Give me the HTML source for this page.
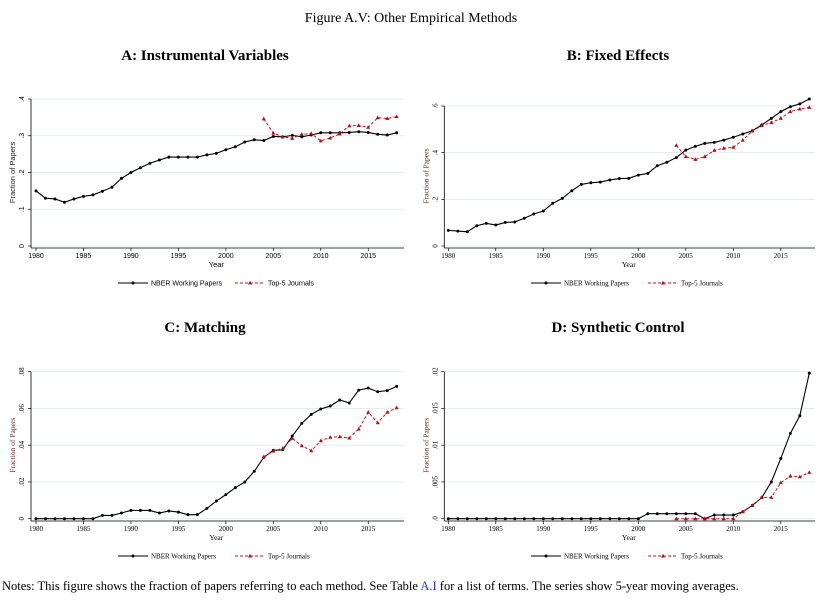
<!DOCTYPE html>
<html><head><meta charset="utf-8">
<style>
body{margin:0;background:#fff;width:823px;height:609px;overflow:hidden;font-family:"Liberation Serif",serif;}
svg{position:absolute;left:0;top:0}
</style></head>
<body>
<svg id="fig" width="823" height="609" viewBox="0 0 823 609">
<text x="411" y="22" text-anchor="middle" font-size="14">Figure A.V: Other Empirical Methods</text>
<text x="2" y="590" font-size="12.5">Notes: This figure shows the fraction of papers referring to each method. See Table <tspan fill="#2a3fd6">A.I</tspan> for a list of terms. The series show 5-year moving averages.</text>
</svg>
<script>
const years = [];
for (let y = 1980; y <= 2018; y++) years.push(y);
const top5Years = [2004,2005,2006,2007,2008,2009,2010,2011,2012,2013,2014,2015,2016,2017,2018];
const xTicks = [1980,1985,1990,1995,2000,2005,2010,2015];

const nberA = [.150,.130,.128,.119,.128,.135,.139,.149,.160,.184,.200,.213,.225,.234,.242,.242,.242,.242,.248,.252,.262,.270,.283,.289,.287,.298,.297,.301,.297,.302,.308,.308,.308,.309,.311,.309,.304,.302,.308];
const top5A = [.346,.307,.297,.293,.304,.306,.286,.294,.305,.327,.328,.323,.349,.347,.352];
const yTicksA = [0,.1,.2,.3,.4];
const yLabelsA = ["0",".1",".2",".3",".4"];

const nberB = [.067,.064,.061,.087,.097,.090,.101,.103,.119,.137,.150,.183,.204,.237,.264,.271,.274,.283,.289,.290,.304,.311,.344,.359,.379,.411,.427,.440,.444,.454,.466,.480,.494,.519,.547,.576,.597,.609,.630];
const top5B = [.431,.383,.371,.383,.410,.419,.423,.454,.493,.516,.529,.547,.576,.587,.594];
const yTicksB = [0,.2,.4,.6];
const yLabelsB = ["0",".2",".4",".6"];

const nberC = [0,0,0,0,0,0,0,.0018,.0018,.0031,.0045,.0045,.0045,.0031,.0042,.0036,.0022,.0022,.0056,.0096,.0131,.0169,.0200,.0258,.0334,.0372,.0375,.0450,.0519,.0568,.0597,.0613,.0646,.0630,.0700,.0711,.0691,.0697,.0720];
const top5C = [.0337,.0368,.0383,.0437,.0397,.0370,.0424,.0443,.0446,.0439,.0488,.0579,.0522,.0579,.0604];
const yTicksC = [0,.02,.04,.06,.08];
const yLabelsC = ["0",".02",".04",".06",".08"];

const nberD = [0,0,0,0,0,0,0,0,0,0,0,0,0,0,0,0,0,0,0,0,0,.00068,.00068,.00068,.00068,.00068,.00068,0,.0005,.0005,.0005,.00095,.0018,.00286,.0050,.0082,.0116,.0140,.0198];
const top5D = [0,0,0,0,0,0,0,.00095,.0018,.0029,.0029,.0049,.0058,.0057,.0063];
const yTicksD = [0,.005,.01,.015,.02];
const yLabelsD = [".0",".005",".01",".015",".02"];

const NS = "http://www.w3.org/2000/svg";
const svg = document.getElementById('fig');
function mk(tag, attrs, parent, text){
  const e = document.createElementNS(NS, tag);
  for (const k in attrs) e.setAttribute(k, attrs[k]);
  if (text !== undefined) e.textContent = text;
  (parent || svg).appendChild(e);
  return e;
}

function panel(cfg){
  const g = mk('g', {});
  
  
  const xS = v => cfg.x0 + (v - 1980) / (2018 - 1980) * (cfg.x1 - cfg.x0);
  const yS = v => cfg.yb - v / cfg.ymax * (cfg.yb - cfg.yt);
  const ff = cfg.sans ? '"Liberation Sans",sans-serif' : '"Liberation Serif",serif';
  const t = mk('text', {x:cfg.cx, y:cfg.ty, 'text-anchor':'middle', 'font-size':15, 'font-weight':'bold'}, g, cfg.title);
  
  
  // gridlines
  cfg.yticks.forEach((v,i) => {
    const yy = yS(v);
    const gl = mk('line', {x1:cfg.ax, x2:cfg.gr, y1:yy, y2:yy, stroke:'#e3ecf0', 'stroke-width':1}, g);
    
    
    mk('line', {x1:cfg.ax-3, x2:cfg.ax, y1:yy, y2:yy, stroke:'#000', 'stroke-width':0.7}, g);
    const lb = mk('text', {x:0, y:0, transform:`translate(${cfg.ax-7},${yy}) rotate(-90)`, 'text-anchor':'middle', 'font-size':7, 'font-family':ff}, g, cfg.ylabels[i]);
    
    
  });
  // axes
  const yTop = yS(cfg.yticks[cfg.yticks.length-1]);
  mk('line', {x1:cfg.ax, x2:cfg.ax, y1:yTop, y2:cfg.xa, stroke:'#000', 'stroke-width':0.8}, g);
  mk('line', {x1:cfg.ax, x2:cfg.gr, y1:cfg.xa, y2:cfg.xa, stroke:'#000', 'stroke-width':0.8}, g);
  xTicks.forEach(v => {
    const xx = xS(v);
    mk('line', {x1:xx, x2:xx, y1:cfg.xa, y2:cfg.xa+3, stroke:'#000', 'stroke-width':0.7}, g);
    const lb = mk('text', {x:xx, y:cfg.xa+10, 'text-anchor':'middle', 'font-size':7, 'font-family':ff}, g, String(v));
    
    
  });
  const xt = mk('text', {x:(cfg.x0+cfg.x1)/2, y:cfg.xa+19, 'text-anchor':'middle', 'font-size':7.5, 'font-family':ff}, g, 'Year');
  
  
  const yt = mk('text', {x:0, y:0, transform:`translate(${cfg.ax-16},${(yTop+cfg.yb)/2}) rotate(-90)`, 'text-anchor':'middle', 'font-size':7.5, 'font-family':ff, fill:cfg.ytColor}, g, 'Fraction of Papers');
  
  
  // NBER series
  const pN = cfg.nber.map((v,i) => `${xS(years[i]).toFixed(2)},${yS(v).toFixed(2)}`).join(' ');
  const ln = mk('polyline', {points:pN, fill:'none', stroke:'#000', 'stroke-width':1.1}, g);
  
  
  cfg.nber.forEach((v,i) => {
    const c = mk('circle', {cx:xS(years[i]), cy:yS(v), r:1.5, fill:'#000'}, g);
    
    
  });
  // Top5 series
  const pT = cfg.top5.map((v,i) => `${xS(top5Years[i]).toFixed(2)},${yS(v).toFixed(2)}`).join(' ');
  const lt = mk('polyline', {points:pT, fill:'none', stroke:'#c0161b', 'stroke-width':1, 'stroke-dasharray':'3,2'}, g);
  
  
  cfg.top5.forEach((v,i) => {
    const x = xS(top5Years[i]), y = yS(v);
    const tr = mk('polygon', {points:`${x},${y-2.2} ${x-2},${y+1.5} ${x+2},${y+1.5}`, fill:'#a8131a'}, g);
    
    
  });
  // legend
  const ly = cfg.ly, lx = cfg.lx;
  const lg = mk('g', {}, g);
  
  
  mk('line', {x1:lx, x2:lx+30, y1:ly, y2:ly, stroke:'#000', 'stroke-width':1.1}, lg);
  mk('circle', {cx:lx+15, cy:ly, r:1.5, fill:'#000'}, lg);
  mk('text', {x:lx+33, y:ly+2.5, 'font-size':7, 'font-family':ff}, lg, 'NBER Working Papers');
  const l2 = lx + 117;
  mk('line', {x1:l2, x2:l2+30, y1:ly, y2:ly, stroke:'#c0161b', 'stroke-width':1, 'stroke-dasharray':'3,2'}, lg);
  mk('polygon', {points:`${l2+15},${ly-2.2} ${l2+13},${ly+1.5} ${l2+17},${ly+1.5}`, fill:'#a8131a'}, lg);
  mk('text', {x:l2+33, y:ly+2.5, 'font-size':7, 'font-family':ff}, lg, 'Top-5 Journals');
}

panel({name:'panel-a-instrumental-variables', title:'A: Instrumental Variables', cx:205, ty:60, x0:36, x1:396.7, yt:99, yb:246, ymax:.4, ax:31, gr:404, xa:248, yticks:yTicksA, ylabels:yLabelsA, nber:nberA, top5:top5A, lx:118, ly:283, sans:true, ytColor:'#222'});
panel({name:'panel-b-fixed-effects', title:'B: Fixed Effects', cx:618, ty:60, x0:448.3, x1:809.3, yt:106, yb:246, ymax:.6, ax:444.3, gr:815, xa:248, yticks:yTicksB, ylabels:yLabelsB, nber:nberB, top5:top5B, lx:531, ly:283, sans:false, ytColor:'#5a2a1a'});
panel({name:'panel-c-matching', title:'C: Matching', cx:205, ty:332, x0:36, x1:396.7, yt:371.7, yb:518.7, ymax:.08, ax:31, gr:404, xa:521, yticks:yTicksC, ylabels:yLabelsC, nber:nberC, top5:top5C, lx:118, ly:556, sans:false, ytColor:'#6b2a1a'});
panel({name:'panel-d-synthetic-control', title:'D: Synthetic Control', cx:618, ty:332, x0:448.3, x1:809.3, yt:371.7, yb:518.7, ymax:.02, ax:444.3, gr:815, xa:521, yticks:yTicksD, ylabels:yLabelsD, nber:nberD, top5:top5D, lx:531, ly:556, sans:false, ytColor:'#6b2a1a'});
</script>
</body></html>
